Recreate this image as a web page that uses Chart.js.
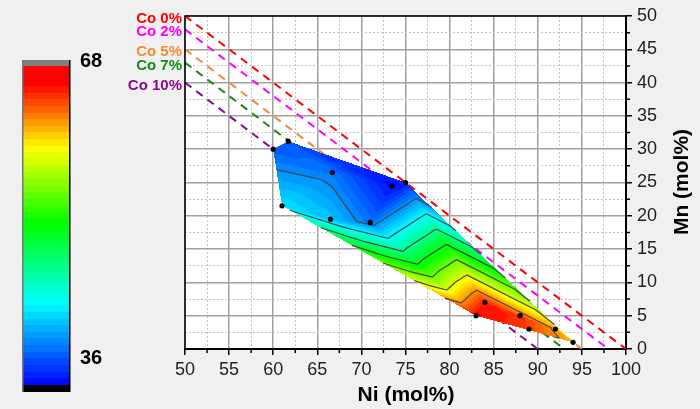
<!DOCTYPE html>
<html>
<head>
<meta charset="utf-8">
<script src="https://cdn.jsdelivr.net/npm/chart.js@4/dist/chart.umd.min.js"></script>
<style>
    html, body { margin: 0; padding: 0; background: #f0f0f0; }
    #wrap { width: 700px; height: 409px; }
</style>
</head>
<body>
<div id="wrap"><canvas id="ChartContour" width="700" height="409"></canvas></div>
<script>
// measured compositions (mol%) and value at each one
var ListNi = [60, 61.7, 66.7, 73.5, 75, 61, 66.5, 71, 84, 83, 88, 89, 92, 94];
var ListMn = [30, 31.2, 26.5, 24.5, 25, 21.5, 19.5, 19, 7, 5, 5, 3, 3, 1];
var ListValue = [36.3, 36, 37.2, 33.4, 33.8, 41, 39.9, 37, 65.2, 66, 64.8, 64.2, 61.6, 61];

// triangulation of the points above (indexes)
var ListTriangles = [
    [0, 1, 2], [0, 2, 5], [5, 2, 6], [1, 3, 2], [1, 4, 3], [2, 3, 7], [2, 7, 6],
    [3, 4, 7], [5, 6, 9], [6, 7, 9], [7, 8, 9], [7, 4, 8], [4, 12, 8], [4, 13, 12],
    [8, 12, 10], [8, 10, 9], [9, 10, 11], [10, 12, 11], [11, 12, 13], [9, 11, 13]
];

var ListContourLevels = [38, 42, 46, 50, 54, 58, 62];

// Co iso-lines: Ni + Mn = 100 - Co
var ListCo = [0, 2, 5, 7, 10];
var ListCoLabels = ['Co 0%', 'Co 2%', 'Co 5%', 'Co 7%', 'Co 10%'];
var ListCoColors = ['#ff0000', '#ff00ff', '#f28a3a', '#148c14', '#8a0a8a'];

// color scale
var ScaleMin = 33;
var ScaleMax = 68;
var ScaleBands = 48;
var ListScaleLabels = [36, 68];

var PaletteValues = [33, 42, 50.7, 59, 66, 68];
var PaletteColors = [[0, 0, 255], [0, 255, 255], [0, 255, 0], [255, 255, 0], [255, 0, 0], [255, 0, 0]];

var FONT = "'Liberation Sans', Arial, sans-serif";

var contourChart = {

    colorFor: function (v) {
        if (v <= PaletteValues[0]) return PaletteColors[0];
        for (var i = 1; i < PaletteValues.length; i++) {
            if (v <= PaletteValues[i]) {
                var t = (v - PaletteValues[i - 1]) / (PaletteValues[i] - PaletteValues[i - 1]);
                var a = PaletteColors[i - 1], b = PaletteColors[i];
                return [a[0] + (b[0] - a[0]) * t, a[1] + (b[1] - a[1]) * t, a[2] + (b[2] - a[2]) * t];
            }
        }
        return PaletteColors[PaletteColors.length - 1];
    },

    bandColor: function (z) {
        var step = (ScaleMax - ScaleMin) / ScaleBands;
        var k = Math.floor((z - ScaleMin) / step);
        if (k < 0) k = 0;
        if (k > ScaleBands - 1) k = ScaleBands - 1;
        return contourChart.colorFor(ScaleMin + (k + 0.5) * step);
    },

    drawSurface: function (chart) {
        var ctx = chart.ctx, area = chart.chartArea;
        var xs = chart.scales.x, ys = chart.scales.y;
        var w = Math.round(area.right - area.left), h = Math.round(area.bottom - area.top);

        var off = document.createElement('canvas');
        off.width = w;
        off.height = h;
        var octx = off.getContext('2d');
        var img = octx.createImageData(w, h);

        for (var t = 0; t < ListTriangles.length; t++) {
            var p = ListTriangles[t].map(function (i) {
                return {
                    x: xs.getPixelForValue(ListNi[i]) - area.left,
                    y: ys.getPixelForValue(ListMn[i]) - area.top,
                    z: ListValue[i]
                };
            });
            var minX = Math.max(0, Math.floor(Math.min(p[0].x, p[1].x, p[2].x)));
            var maxX = Math.min(w - 1, Math.ceil(Math.max(p[0].x, p[1].x, p[2].x)));
            var minY = Math.max(0, Math.floor(Math.min(p[0].y, p[1].y, p[2].y)));
            var maxY = Math.min(h - 1, Math.ceil(Math.max(p[0].y, p[1].y, p[2].y)));
            var det = (p[1].y - p[2].y) * (p[0].x - p[2].x) + (p[2].x - p[1].x) * (p[0].y - p[2].y);
            if (Math.abs(det) < 1e-9) continue;

            for (var py = minY; py <= maxY; py++) {
                for (var px = minX; px <= maxX; px++) {
                    var sx = px + 0.5, sy = py + 0.5;
                    var l1 = ((p[1].y - p[2].y) * (sx - p[2].x) + (p[2].x - p[1].x) * (sy - p[2].y)) / det;
                    var l2 = ((p[2].y - p[0].y) * (sx - p[2].x) + (p[0].x - p[2].x) * (sy - p[2].y)) / det;
                    var l3 = 1 - l1 - l2;
                    if (l1 < -1e-6 || l2 < -1e-6 || l3 < -1e-6) continue;
                    var z = l1 * p[0].z + l2 * p[1].z + l3 * p[2].z;
                    var c = contourChart.bandColor(z);
                    var o = (py * w + px) * 4;
                    img.data[o] = c[0];
                    img.data[o + 1] = c[1];
                    img.data[o + 2] = c[2];
                    img.data[o + 3] = 255;
                }
            }
        }
        octx.putImageData(img, 0, 0);
        ctx.drawImage(off, area.left, area.top);

        // contour lines
        ctx.save();
        ctx.strokeStyle = '#4a4a4a';
        ctx.lineWidth = 1.2;
        ctx.beginPath();
        for (var t = 0; t < ListTriangles.length; t++) {
            var idx = ListTriangles[t];
            for (var l = 0; l < ListContourLevels.length; l++) {
                var L = ListContourLevels[l];
                var cuts = [];
                for (var e = 0; e < 3; e++) {
                    var a = idx[e], b = idx[(e + 1) % 3];
                    var za = ListValue[a], zb = ListValue[b];
                    if ((za - L) * (zb - L) < 0) {
                        var f = (L - za) / (zb - za);
                        cuts.push({
                            x: xs.getPixelForValue(ListNi[a] + f * (ListNi[b] - ListNi[a])),
                            y: ys.getPixelForValue(ListMn[a] + f * (ListMn[b] - ListMn[a]))
                        });
                    }
                }
                if (cuts.length === 2) {
                    ctx.moveTo(cuts[0].x, cuts[0].y);
                    ctx.lineTo(cuts[1].x, cuts[1].y);
                }
            }
        }
        ctx.stroke();
        ctx.restore();
    },

    drawColorBar: function (ctx) {
        var x = 23, w = 46, top = 66, bottom = 385;
        var cbY = function (v) { return top + (ScaleMax - v) / (ScaleMax - ScaleMin) * (bottom - top); };
        var step = (ScaleMax - ScaleMin) / ScaleBands;
        for (var k = 0; k < ScaleBands; k++) {
            var v0 = ScaleMin + k * step;
            var c = contourChart.colorFor(v0 + step / 2);
            var y1 = Math.round(cbY(v0 + step)), y0 = Math.round(cbY(v0));
            ctx.fillStyle = 'rgb(' + Math.round(c[0]) + ',' + Math.round(c[1]) + ',' + Math.round(c[2]) + ')';
            ctx.fillRect(x, y1, w, y0 - y1);
        }
        ctx.fillStyle = '#808080';
        ctx.fillRect(x, top - 6, w, 6);
        ctx.fillStyle = '#000';
        ctx.fillRect(x, bottom, w, 7);
        ctx.fillStyle = '#777';
        ctx.fillRect(x - 1, top - 6, 1.5, bottom - top + 13);
        ctx.fillStyle = '#000';
        ctx.fillRect(x + w, top - 6, 1.5, bottom - top + 13);

        ctx.fillStyle = '#000';
        ctx.font = 'bold 20px ' + FONT;
        ctx.textAlign = 'left';
        ctx.textBaseline = 'middle';
        for (var i = 0; i < ListScaleLabels.length; i++) {
            var v = ListScaleLabels[i];
            var y = v === ScaleMax ? top - 6 : cbY(v);
            ctx.fillText(String(v), 80, y + 1);
        }
    },

    minorTicks: function (chart) {
        var ctx = chart.ctx, area = chart.chartArea;
        var xs = chart.scales.x, ys = chart.scales.y;
        ctx.save();
        ctx.strokeStyle = '#000';
        ctx.lineWidth = 1.5;
        ctx.beginPath();
        xs.ticks.forEach(function (t) {
            if (t.value % 5 !== 0) {
                var px = xs.getPixelForValue(t.value);
                ctx.moveTo(px, area.bottom);
                ctx.lineTo(px, area.bottom + 4);
            }
        });
        ys.ticks.forEach(function (t) {
            if (t.value % 5 !== 0) {
                var py = ys.getPixelForValue(t.value);
                ctx.moveTo(area.right, py);
                ctx.lineTo(area.right + 4, py);
            }
        });
        ctx.stroke();
        // top and left frame
        ctx.lineWidth = 1.5;
        ctx.beginPath();
        ctx.moveTo(area.left, area.bottom);
        ctx.lineTo(area.left, area.top);
        ctx.lineTo(area.right, area.top);
        ctx.stroke();
        ctx.restore();
    },

    texts: function (chart) {
        var ctx = chart.ctx;
        var ys = chart.scales.y, area = chart.chartArea;
        ctx.save();
        ctx.font = 'bold 15px ' + FONT;
        ctx.textAlign = 'right';
        ctx.textBaseline = 'middle';
        for (var i = 0; i < ListCo.length; i++) {
            ctx.fillStyle = ListCoColors[i];
            ctx.fillText(ListCoLabels[i], area.left - 3, ys.getPixelForValue(50 - ListCo[i]) + 3);
        }

        ctx.fillStyle = '#000';
        ctx.font = 'bold 21px ' + FONT;
        ctx.textAlign = 'center';
        ctx.fillText('Ni (mol%)', 406, 395);

        ctx.translate(682, 182);
        ctx.rotate(-Math.PI / 2);
        ctx.fillText('Mn (mol%)', 0, 0);
        ctx.restore();

        contourChart.drawColorBar(ctx);
    }
};

var surfacePlugin = {
    id: 'surface',
    beforeDraw: function (chart) {
        var ctx = chart.ctx, area = chart.chartArea;
        ctx.save();
        ctx.fillStyle = '#f0f0f0';
        ctx.fillRect(0, 0, chart.width, chart.height);
        ctx.fillStyle = '#ffffff';
        ctx.fillRect(area.left, area.top, area.right - area.left, area.bottom - area.top);
        ctx.restore();
    },
    beforeDatasetDraw: function (chart, args) {
        if (args.index === 0) contourChart.drawSurface(chart);
    },
    afterDraw: function (chart) {
        contourChart.minorTicks(chart);
        contourChart.texts(chart);
    }
};

function isMinor(ctx) {
    return ctx.tick && ctx.tick.value % 5 !== 0;
}

function axisOptions(position, min, max) {
    return {
        type: 'linear',
        position: position,
        min: min,
        max: max,
        afterFit: function (scale) {
            if (position === 'bottom') scale.height = 30;
            else scale.width = 40;
        },
        ticks: {
            stepSize: 2.5,
            autoSkip: false,
            maxRotation: 0,
            padding: position === 'bottom' ? 4 : 5,
            color: '#222',
            font: { family: FONT, size: 18 },
            callback: function (v) { return v % 5 === 0 ? v : ''; }
        },
        grid: {
            color: function (ctx) { return isMinor(ctx) ? '#c4c4c4' : '#a0a0a0'; },
            lineWidth: function (ctx) { return isMinor(ctx) ? 1 : 1.5; },
            tickLength: 6,
            tickWidth: 1.5,
            tickColor: function (ctx) { return isMinor(ctx) ? 'rgba(0,0,0,0)' : '#000'; }
        },
        border: {
            display: true,
            color: '#000',
            width: 2,
            dash: function (ctx) { return isMinor(ctx) ? [2, 2] : []; }
        }
    };
}

var datasets = [{
    label: 'points',
    data: ListNi.map(function (n, i) { return { x: n, y: ListMn[i] }; }),
    pointRadius: 2.6,
    pointBackgroundColor: '#000',
    pointBorderWidth: 0,
    showLine: false,
    order: 0
}];

for (var i = 0; i < ListCo.length; i++) {
    datasets.push({
        label: ListCoLabels[i],
        data: [{ x: 50, y: 50 - ListCo[i] }, { x: 100 - ListCo[i], y: 0 }],
        borderColor: ListCoColors[i],
        borderWidth: 2,
        borderDash: [8, 6],
        pointRadius: 0,
        showLine: true,
        fill: false,
        order: 1
    });
}

new Chart(document.getElementById('ChartContour').getContext('2d'), {
    type: 'scatter',
    data: { datasets: datasets },
    options: {
        responsive: false,
        animation: false,
        devicePixelRatio: 1,
        layout: { padding: { left: 185, right: 34, top: 16, bottom: 30 } },
        plugins: { legend: { display: false }, tooltip: { enabled: false } },
        scales: {
            x: axisOptions('bottom', 50, 100),
            y: axisOptions('right', 0, 50)
        }
    },
    plugins: [surfacePlugin]
});
</script>
</body>
</html>
